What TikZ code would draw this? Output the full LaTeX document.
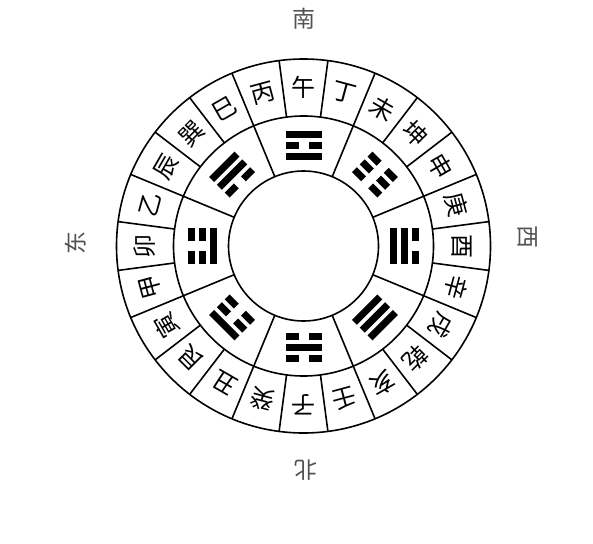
\documentclass[tikz,border=0pt]{standalone}
\usepackage{fontspec}
\newfontfamily\cjk{Noto Sans CJK SC}
\newcommand\yaoline[2]{%
  \ifnum#2=1
    \fill (-18,#1-3.5) rectangle (18,#1+3.5);
  \else
    \fill (-18,#1-3.5) rectangle (-5,#1+3.5);
    \fill (5,#1-3.5) rectangle (18,#1+3.5);
  \fi}
\tikzset{
  ring/.style={line width=1.6pt},
  mountain/.style={font=\cjk\fontsize{24}{24}\selectfont, inner sep=0pt},
  cardinal/.style={font=\cjk\fontsize{23}{23}\selectfont, text=black!68, inner sep=0pt}
}
\begin{document}
\begin{tikzpicture}[x=1pt,y=1pt]
\useasboundingbox (0,0) rectangle (593,-543);
\fill[white] (0,0) rectangle (593,-543);
\begin{scope}[shift={(303.5,-246)}]
  \coordinate (O) at (0,0);
  \draw[ring] (O) circle[radius=187];
  \draw[ring] (O) circle[radius=130];
  \draw[ring] (O) circle[radius=75];
  \foreach \i in {0,...,23}{
    \draw[ring] (97.5+15*\i:130) -- (97.5+15*\i:187);
  }
  \foreach \i in {0,...,7}{
    \draw[ring] (112.5+45*\i:75) -- (112.5+45*\i:130);
  }
  \foreach \ch [count=\i from 0] in {午,丁,未,坤,申,庚,酉,辛,戌,乾,亥,壬,子,癸,丑,艮,寅,甲,卯,乙,辰,巽,巳,丙}{
    \node[mountain, rotate=-15*\i] (m\i) at (90-15*\i:158.5) {\ch};
  }
  \foreach \ang/\b/\m/\t in {90/1/0/1, 45/0/0/0, 0/1/1/0, -45/1/1/1, -90/0/1/0, -135/0/0/1, 180/1/0/0, 135/0/1/1}{
    \begin{scope}[rotate=\ang-90]
      \yaoline{90}{\b}
      \yaoline{101}{\m}
      \yaoline{112}{\t}
    \end{scope}
  }
\end{scope}
\node[cardinal] (south) at (304,-19) {南};
\node[cardinal, rotate=180] (north) at (306,-470) {北};
\node[cardinal, rotate=90] (east) at (76,-243) {东};
\node[cardinal, rotate=-90] (west) at (528,-237) {西};
\end{tikzpicture}
\end{document}
